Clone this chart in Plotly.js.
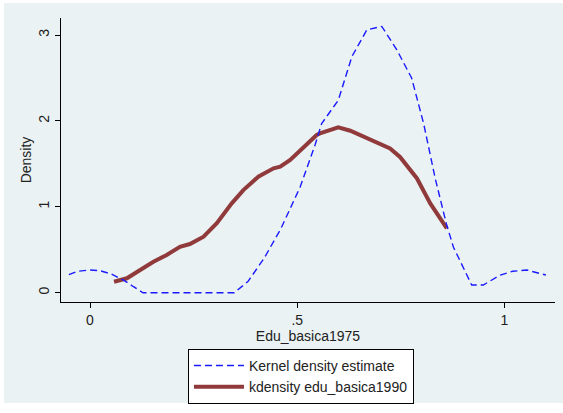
<!DOCTYPE html>
<html>
<head>
<meta charset="utf-8">
<script src="https://cdn.plot.ly/plotly-3.0.1.min.js"></script>
<style>html,body{margin:0;padding:0;background:#fff;}#chart{width:563px;height:413px;}</style>
</head>
<body>
<div id="chart"></div>
<script>
// Kernel density estimate (edu_basica1975)
const x1975 = [-0.051, -0.03, 0.0, 0.025, 0.05, 0.08, 0.105, 0.128, 0.348, 0.381, 0.42, 0.46, 0.507, 0.543, 0.559, 0.599, 0.632, 0.668, 0.704, 0.740, 0.776, 0.805, 0.833, 0.86, 0.877, 0.921, 0.949, 0.99, 1.02, 1.054, 1.10];
const y1975 = [0.21, 0.25, 0.265, 0.255, 0.22, 0.15, 0.07, 0.0, 0.0, 0.13, 0.40, 0.74, 1.23, 1.72, 1.97, 2.24, 2.75, 3.06, 3.10, 2.83, 2.50, 1.97, 1.33, 0.80, 0.53, 0.09, 0.09, 0.206, 0.25, 0.264, 0.206];
// kdensity edu_basica1990
const x1990 = [0.058, 0.089, 0.121, 0.153, 0.185, 0.217, 0.241, 0.274, 0.306, 0.342, 0.37, 0.406, 0.443, 0.459, 0.483, 0.499, 0.507, 0.547, 0.555, 0.599, 0.628, 0.668, 0.70, 0.724, 0.748, 0.772, 0.789, 0.821, 0.861];
const y1990 = [0.128, 0.168, 0.264, 0.36, 0.44, 0.535, 0.567, 0.652, 0.81, 1.04, 1.195, 1.35, 1.448, 1.467, 1.545, 1.62, 1.66, 1.836, 1.855, 1.925, 1.886, 1.80, 1.74, 1.68, 1.58, 1.43, 1.33, 1.04, 0.75];
const xTickVals = [0, 0.5, 1];
const xTickText = ['0', '.5', '1'];
const yTickVals = [0, 1, 2, 3];
const yTickText = ['0', '1', '2', '3'];
const names = ['Kernel density estimate', 'kdensity edu_basica1990'];

const traces = [
  {x: x1990, y: y1990, type: 'scatter', mode: 'lines', name: names[1],
   line: {color: '#903a3b', width: 4}},
  {x: x1975, y: y1975, type: 'scatter', mode: 'lines', name: names[0],
   line: {color: '#1a1aff', width: 1.4, dash: '7px,4px'}}
];

const font = {family: 'Liberation Sans, Arial, sans-serif', size: 14, color: '#222'};
const layout = {
  width: 563, height: 413,
  margin: {l: 61, r: 8, t: 18, b: 111, pad: 0},
  paper_bgcolor: '#ffffff',
  plot_bgcolor: '#ffffff',
  font: font,
  showlegend: true,
  legend: {
    x: 0.257, y: -0.165, xanchor: 'left', yanchor: 'top',
    bgcolor: '#ffffff', bordercolor: '#000', borderwidth: 1,
    traceorder: 'reversed', font: font, itemwidth: 50
  },
  xaxis: {
    range: [-0.07, 1.122], tickvals: xTickVals, ticktext: xTickText,
    showgrid: false, zeroline: false, showline: true, linecolor: '#000', linewidth: 1.2,
    ticks: 'outside', ticklen: 5, tickcolor: '#000', tickfont: font,
    title: {text: 'Edu_basica1975', font: font, standoff: 2}
  },
  yaxis: {
    range: [-0.108, 3.198], tickvals: yTickVals, ticktext: yTickText, tickangle: -90,
    showgrid: true, gridcolor: '#eaf2f3', gridwidth: 1,
    zeroline: false, showline: true, linecolor: '#000', linewidth: 1.2,
    ticks: 'outside', ticklen: 5, tickcolor: '#000', tickfont: font,
    title: {text: 'Density', font: font, standoff: 1}
  },
  shapes: [{
    type: 'rect', xref: 'paper', yref: 'paper', layer: 'below',
    x0: -0.1154, x1: 1.02, y0: -0.3556, y1: 1.0528,
    fillcolor: '#eaf2f3', line: {width: 0}
  }]
};
Plotly.newPlot('chart', traces, layout, {displayModeBar: false, staticPlot: true});
</script>
</body>
</html>
